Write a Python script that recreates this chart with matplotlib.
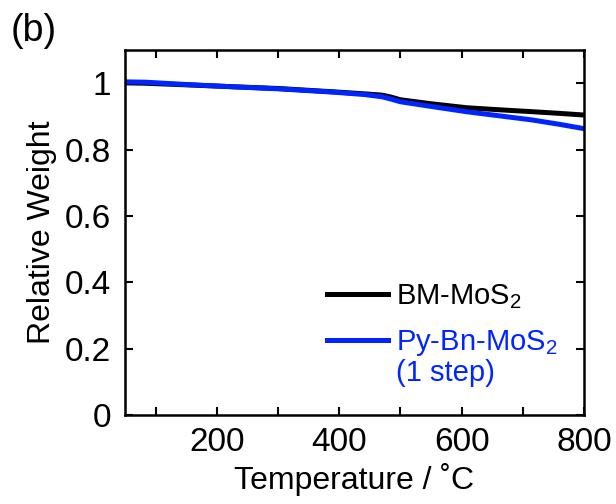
import numpy as np
import matplotlib
matplotlib.use("Agg")
import matplotlib.pyplot as plt
from matplotlib.ticker import MultipleLocator

plt.rcParams['font.family'] = ['Liberation Sans', 'DejaVu Sans']
plt.rcParams['mathtext.fontset'] = 'custom'
plt.rcParams['mathtext.rm'] = 'Liberation Sans'

# TGA curves, relative weight vs temperature
temp_bm = [50, 80, 150, 230, 300, 390, 440, 470, 485, 500, 550, 608, 660, 716, 760, 800]
weight_bm = [1.001, 1.000, 0.995, 0.989, 0.984, 0.974, 0.968, 0.964, 0.958, 0.950, 0.938, 0.926, 0.920, 0.914, 0.909, 0.904]

temp_py = [50, 83, 150, 227, 300, 390, 440, 470, 485, 500, 550, 608, 660, 716, 760, 800]
weight_py = [1.004, 1.003, 0.996, 0.989, 0.983, 0.973, 0.966, 0.959, 0.952, 0.944, 0.930, 0.914, 0.902, 0.889, 0.876, 0.863]

labels = ['BM-MoS$_2$', 'Py-Bn-MoS$_2$']
colors = ['black', '#0025ff']

fig = plt.figure(figsize=(6.16, 5.04), dpi=100)
ax = fig.add_axes([0.203, 0.1766, 0.745, 0.7242])

ax.plot(temp_bm, weight_bm, color=colors[0], lw=3.6, label=labels[0])
ax.plot(temp_py, weight_py, color=colors[1], lw=3.6, label=labels[1])

ax.set_xlim(50, 800)
ax.set_ylim(0, 1.1)
ax.set_xticks([200, 400, 600, 800])
ax.xaxis.set_minor_locator(MultipleLocator(100))
ax.set_yticks([0, 0.2, 0.4, 0.6, 0.8, 1.0])
ax.set_yticklabels(['0', '0.2', '0.4', '0.6', '0.8', '1'])
ax.tick_params(which='both', direction='in', top=True, right=True,
               labelsize=24, width=1.5, length=6)
ax.tick_params(axis='y', pad=10)
ax.tick_params(axis='x', pad=9)
for s in ax.spines.values():
    s.set_linewidth(1.8)

ax.set_xlabel('Temperature / ˚C', fontsize=23, labelpad=3)
ax.set_ylabel('Relative Weight', fontsize=23, labelpad=6)

leg = ax.legend(loc='upper left', bbox_to_anchor=(0.44, 0.365), frameon=False,
                fontsize=21, handlelength=2.1, handletextpad=0.25,
                labelspacing=0.6, borderaxespad=0, borderpad=0)
for txt, c in zip(leg.get_texts(), colors):
    txt.set_color(c)
ax.text(0.59, 0.115, '(1 step)', transform=ax.transAxes, fontsize=21,
        color=colors[1], va='center', ha='left')

fig.text(0.018, 0.975, '(b)', fontsize=27, va='top')

fig.savefig('out.png', dpi=100)
